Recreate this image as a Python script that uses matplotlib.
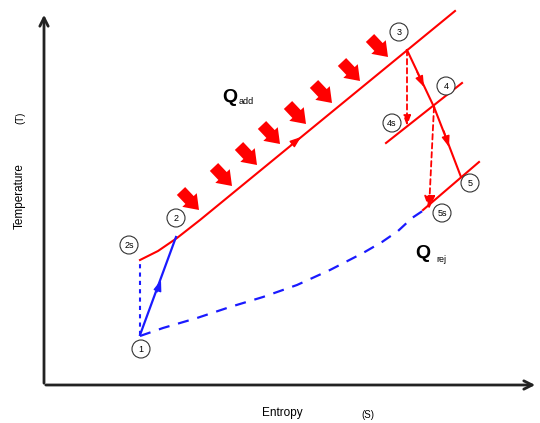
import matplotlib
matplotlib.use('Agg')
import matplotlib.pyplot as plt
from matplotlib.patches import Circle

# state points in (entropy, temperature) picture units
state_names = ['1', '2s', '2', '3', '4s', '4', '5s', '5']
state_s = [140, 140, 176, 407, 407, 434, 429, 461]
state_t = [335, 260, 237, 50, 126, 107, 209, 177]
label_s = [141, 129, 176, 399, 392, 446, 442, 470]
label_t = [349, 245, 218, 32, 123, 86, 213, 183]

# heat addition line (2s -> 2 -> 3 and beyond)
heat_s = [140, 158, 177, 200, 455]
heat_t = [260, 251, 238, 220, 11]
# isobars through 4 and 5
iso4_s = [386, 462]
iso4_t = [143, 83]
iso5_s = [423, 479]
iso5_t = [210, 162]
# heat rejection (blue dashed curve 1 -> 5s)
rej_s = [140, 163, 197, 230, 263, 297, 330, 363, 382, 398, 412, 424]
rej_t = [336, 328, 318, 307, 297, 285, 270, 253, 242, 231, 218, 210]
# expansion 4 -> 5
exp_s = [434, 448, 461]
exp_t = [107, 143, 177]
# heat input arrows (tail positions)
q_tail_s = [181, 214, 239, 262, 288, 314, 342, 370]
q_tail_t = [191, 167, 146, 125, 105, 84, 62, 38]

RED = '#ff0000'
BLUE = '#1a1aff'

fig = plt.figure(figsize=(5.4, 4.23), dpi=100)
ax = fig.add_axes([0, 0, 1, 1])
ax.set_xlim(0, 540)
ax.set_ylim(423, 0)
ax.axis('off')

# axes with arrows
ax.annotate('', xy=(44, 12), xytext=(44, 386),
            arrowprops=dict(arrowstyle='->', lw=2, color='#222222', mutation_scale=15))
ax.annotate('', xy=(538, 385), xytext=(43, 385),
            arrowprops=dict(arrowstyle='->', lw=2, color='#222222', mutation_scale=15))

# red lines
ax.plot(heat_s, heat_t, color=RED, lw=1.5)
ax.plot(iso4_s, iso4_t, color=RED, lw=1.5)
ax.plot(iso5_s, iso5_t, color=RED, lw=1.5)
ax.plot(exp_s, exp_t, color=RED, lw=1.5)
ax.plot([state_s[3], state_s[5]], [state_t[3], state_t[5]], color=RED, lw=1.5)

def mid_arrow(x0, y0, x1, y1, color):
    ax.annotate('', xy=(x1, y1), xytext=(x0, y0),
                arrowprops=dict(arrowstyle='-|>,head_length=0.6,head_width=0.22',
                                color=color, lw=1,
                                mutation_scale=11, shrinkA=0, shrinkB=0))

mid_arrow(291, 145, 301, 137, RED)
mid_arrow(417, 72, 424, 87, RED)
mid_arrow(444, 131, 449, 147, RED)

# isentropic dashed drops
ax.annotate('', xy=(state_s[4], state_t[4]), xytext=(state_s[3], state_t[3]),
            arrowprops=dict(arrowstyle='-|>,head_length=0.6,head_width=0.22', color=RED,
                            lw=1.3, ls=(0, (3, 2)),
                            mutation_scale=10, shrinkA=0, shrinkB=0))
ax.annotate('', xy=(state_s[6], state_t[6]), xytext=(state_s[5], state_t[5]),
            arrowprops=dict(arrowstyle='-|>,head_length=0.6,head_width=0.25', color=RED,
                            lw=1.3, ls=(0, (3, 2)),
                            mutation_scale=13, shrinkA=0, shrinkB=0))

# blue compression and rejection
ax.plot([state_s[0], state_s[2]], [state_t[0], state_t[2]], color=BLUE, lw=1.6)
mid_arrow(157, 292, 161, 280, BLUE)
ax.plot([state_s[0], state_s[1]], [state_t[0], state_t[1]], color=BLUE, lw=1.5, ls=(0, (2, 2)))
ax.plot(rej_s, rej_t, color=BLUE, lw=1.6, ls=(0, (5, 4)))

# heat input arrows
for x, y in zip(q_tail_s, q_tail_t):
    ax.annotate('', xy=(x + 18, y + 19), xytext=(x, y),
                arrowprops=dict(arrowstyle='simple,head_width=1.3,head_length=0.9,tail_width=0.75',
                                color=RED, lw=0, mutation_scale=11, shrinkA=0, shrinkB=0))

# state labels
for name, x, y in zip(state_names, label_s, label_t):
    ax.add_patch(Circle((x, y), 9, facecolor='white', edgecolor='#333333', lw=0.8, zorder=5))
    ax.text(x, y + 0.5, name, ha='center', va='center', fontsize=6.5,
            family='Liberation Sans', zorder=6)

# heat text
ax.text(222, 97, 'Q', fontsize=14, fontweight='bold', family='Liberation Sans', va='center')
ax.text(239, 102, 'add', fontsize=6.5, family='Liberation Sans', va='center')
ax.text(415, 253, 'Q', fontsize=14, fontweight='bold', family='Liberation Sans', va='center')
ax.text(436, 259, 'rej', fontsize=6.5, family='Liberation Sans', va='center')

# axis labels
ax.text(20, 196, 'Temperature', rotation=90, fontsize=8.5, family='Liberation Sans',
        ha='center', va='center')
ax.text(20, 118, '(T)', rotation=90, fontsize=7, family='Liberation Sans',
        ha='center', va='center')
ax.text(282, 413, 'Entropy', fontsize=8.5, family='Liberation Sans', ha='center', va='center')
ax.text(368, 415, '(S)', fontsize=7, family='Liberation Sans', ha='center', va='center')

fig.savefig('out.png', dpi=100)
